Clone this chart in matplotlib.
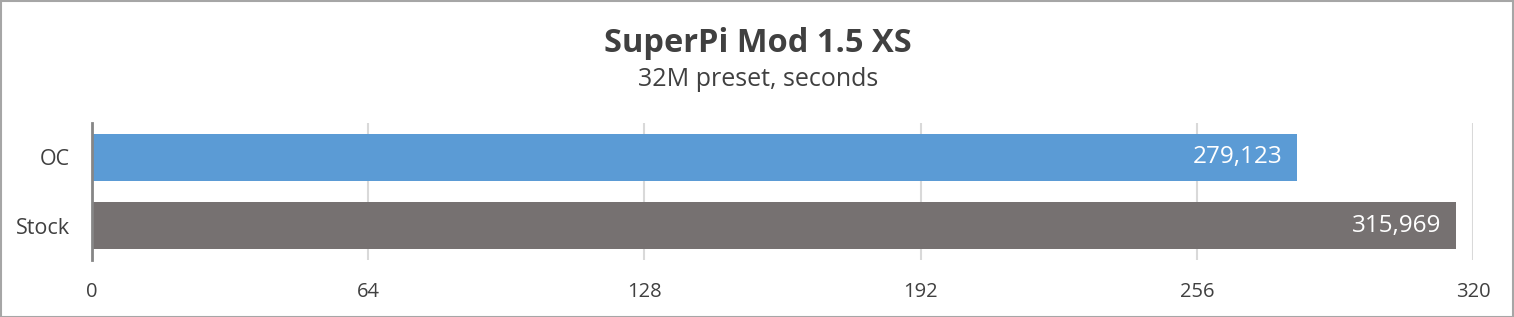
import matplotlib.pyplot as plt
from matplotlib.patches import Rectangle

plt.rcParams['font.family'] = ['Open Sans', 'DejaVu Sans']

categories = ['OC', 'Stock']
values = [279.123, 315.969]
value_labels = ['279,123', '315,969']
colors = ['#5B9BD5', '#767171']
ticks = [0, 64, 128, 192, 256, 320]

W, H = 1514, 317
fig = plt.figure(figsize=(W / 100, H / 100), dpi=100)
ax = fig.add_axes([92 / W, (H - 260) / H, (1473 - 92) / W, (260 - 123) / H])

ypos = [1, 0]
ax.barh(ypos, values, height=0.686, color=colors, zorder=3)
for y, v, lab in zip(ypos, values, value_labels):
    ax.text(v - 320 * 14 / 1381, y, lab, ha='right', va='center',
            color='white', fontsize=17.5, zorder=4)

ax.set_xlim(0, 320)
ax.set_ylim(-0.5, 1.5)
ax.set_xticks(ticks)
ax.set_xticklabels([str(t) for t in ticks], fontsize=14.5, color='#404040')
ax.set_yticks(ypos)
ax.set_yticklabels(categories, fontsize=15.5, color='#404040')
ax.tick_params(axis='x', length=0, pad=16)
ax.tick_params(axis='y', length=0, pad=16)
ax.grid(axis='x', color='#D9D9D9', linewidth=1.5, zorder=0)
for s in ['top', 'right', 'bottom']:
    ax.spines[s].set_visible(False)
ax.spines['left'].set_color('#868686')
ax.spines['left'].set_linewidth(2)
ax.spines['left'].set_zorder(5)

fig.text(758 / W, 1 - 43 / H, 'SuperPi Mod 1.5 XS', ha='center', va='center',
         fontsize=23.5, fontweight='bold', color='#404040')
fig.text(758 / W, 1 - 80 / H, '32M preset, seconds', ha='center', va='center',
         fontsize=18, color='#404040')

fig.patches.append(Rectangle((0.5 / W, 0.5 / H), 1 - 1.5 / W, 1 - 1.5 / H,
                             transform=fig.transFigure, fill=False,
                             edgecolor='#A6A6A6', linewidth=1.5))

fig.savefig('out.png', dpi=100)
